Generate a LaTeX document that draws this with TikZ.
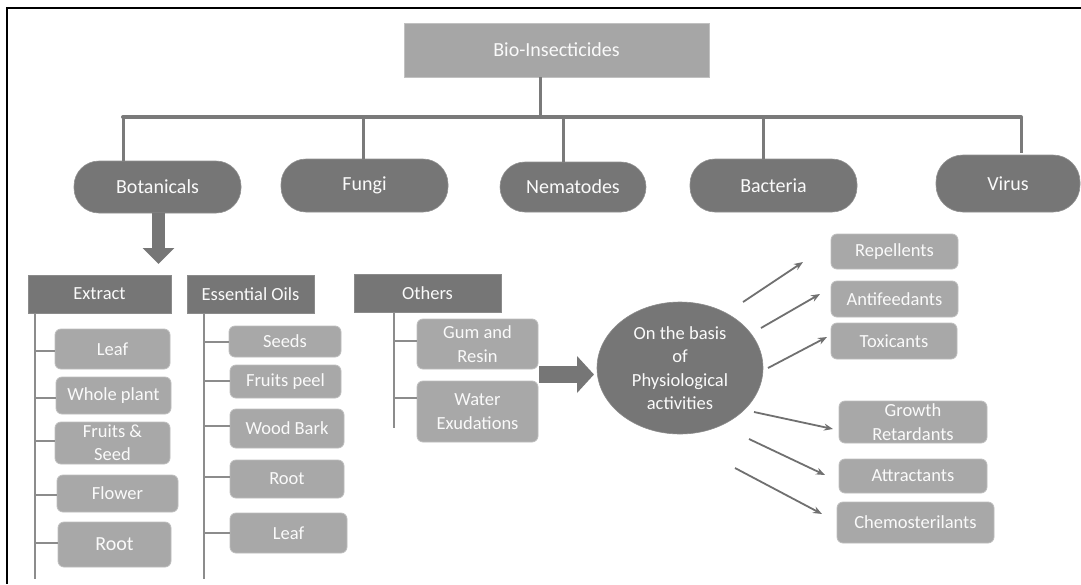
\documentclass[tikz,border=0pt]{standalone}
\usepackage{fontspec}
\setmainfont{Carlito}
\usetikzlibrary{shapes.geometric,arrows.meta}
\definecolor{dk}{RGB}{118,118,118}
\definecolor{lt}{RGB}{168,168,168}
\definecolor{topc}{RGB}{166,166,166}
\definecolor{barc}{RGB}{122,122,122}
\definecolor{treec}{RGB}{140,140,140}
\definecolor{txt}{RGB}{250,250,250}
\tikzset{
  basefont/.style={font=\fontsize{18.5}{23.5}\selectfont},
  bigfont/.style={font=\fontsize{20}{24}\selectfont},
  topbox/.style={rectangle, fill=topc, draw=topc!70!white, line width=0.8pt, text=txt, inner sep=0pt, bigfont},
  pill/.style={rectangle, rounded corners=25pt, fill=dk, draw=dk!80!white, line width=0.6pt, text=txt, inner sep=0pt, bigfont},
  hdr/.style={rectangle, fill=dk, draw=dk!85!white, line width=0.6pt, text=txt, inner sep=0pt, basefont},
  lbox/.style={rectangle, rounded corners=6pt, fill=lt, draw=lt!75!white, line width=0.8pt, text=txt, inner sep=0pt, align=center, basefont},
  oval/.style={ellipse, fill=dk, draw=dk!85!white, line width=0.6pt, text=txt, inner sep=0pt, align=center, basefont},
  bar/.style={draw=barc, line width=4pt},
  stem/.style={draw=barc, line width=3pt},
  tree/.style={draw=treec, line width=2pt},
  thinarr/.style={draw=dk!95!black, line width=1.8pt, -{Stealth[length=9pt,width=7pt]}},
}
\begin{document}
\begin{tikzpicture}[x=1pt,y=-1pt]
\useasboundingbox (0,0) rectangle (1081,584);
\fill[white] (0,0) rectangle (1081,584);
% frame (top and left edges)
\coordinate (fTL) at (7,8);
\coordinate (fTR) at (1081,8);
\coordinate (fBL) at (7,584);
\draw[black, line width=1.5pt] (fTR) -- (fTL) -- (fBL);

% top
\node[topbox, minimum width=305pt, minimum height=54pt] (top) at (556.5,50) {Bio-Insecticides};

% category pills
\node[pill, minimum width=167pt, minimum height=52pt] (bot) at (157.5,187) {Botanicals};
\node[pill, minimum width=167pt, minimum height=53pt] (fungi) at (364.5,185.5) {Fungi};
\node[pill, minimum width=146pt, minimum height=50pt] (nem) at (573,187) {Nematodes};
\node[pill, minimum width=167pt, minimum height=53pt] (bac) at (773.5,185.5) {Bacteria};
\node[pill, minimum width=144pt, minimum height=57pt, rounded corners=27pt] (vir) at (1008,183.5) {Virus};

% bar connectors
\coordinate (jT) at (540,117);
\coordinate (jL) at (123,117);
\coordinate (jR) at (1021,117);
\coordinate (jF) at (363,117);
\coordinate (jN) at (563,117);
\coordinate (jB) at (763,117);
\coordinate (jV) at (1021,153);
\draw[stem] (top.south -| jT) -- (jT);
\draw[bar, line cap=round] (jL) -- (jR);
\draw[stem] (jL) -- (jL |- bot.north);
\draw[stem] (jF) -- (jF |- fungi.north);
\draw[stem] (jN) -- (jN |- nem.north);
\draw[stem] (jB) -- (jB |- bac.north);
\draw[stem] (jR) -- (jV);

% down arrow
\coordinate (dTip) at (158.5,264);
\draw[draw=dk, line width=13pt, -{Triangle[width=31pt,length=16pt]}] (bot.south -| dTip) -- (dTip);

% headers
\node[hdr, minimum width=143pt, minimum height=38pt] (ext) at (99.5,294) {Extract};
\node[hdr, minimum width=127pt, minimum height=38pt] (eso) at (250.5,294) {Essential Oils};
\node[hdr, minimum width=147pt, minimum height=38pt] (oth) at (427.5,293) {Others};

% Extract items
\node[lbox, minimum width=115pt, minimum height=40pt] (eleaf) at (112.5,349) {Leaf};
\node[lbox, minimum width=115pt, minimum height=37pt] (ewhole) at (113.5,395.5) {Whole plant};
\node[lbox, minimum width=115pt, minimum height=42pt] (efruit) at (112.5,443) {Fruits \&\\[-0.5pt]Seed};
\node[lbox, minimum width=121pt, minimum height=37pt] (eflower) at (117.5,493.5) {Flower};
\node[lbox, minimum width=113pt, minimum height=45pt, bigfont] (eroot) at (114.5,544.5) {Root};

% Essential oil items
\node[lbox, minimum width=112pt, minimum height=31pt] (oseeds) at (285,341.5) {Seeds};
\node[lbox, minimum width=111pt, minimum height=33pt] (opeel) at (285.5,381.5) {Fruits peel};
\node[lbox, minimum width=114pt, minimum height=39pt] (obark) at (287,428.5) {Wood Bark};
\node[lbox, minimum width=114pt, minimum height=38pt] (oroot) at (287,479) {Root};
\node[lbox, minimum width=117pt, minimum height=40pt] (oleaf) at (288.5,533) {Leaf};

% Others items
\node[lbox, minimum width=121pt, minimum height=50pt] (gum) at (477.5,344) {Gum and\\Resin};
\node[lbox, minimum width=121pt, minimum height=61pt] (water) at (477.5,411.5) {Water\\Exudations};

% trees
\coordinate (xE) at (34.5,579);
\coordinate (xO) at (204,579);
\coordinate (xH) at (394,428);
\draw[tree] (xE |- ext.south) -- (xE);
\foreach \n/\y in {eleaf/351,ewhole/398,efruit/441,eflower/495,eroot/543}
  \draw[tree] (34.5,\y) -- (\n.west |- 0,\y);
\draw[tree] (xO |- eso.south) -- (xO);
\foreach \n/\y in {oseeds/342,opeel/381,obark/426,oroot/477,oleaf/533}
  \draw[tree] (204,\y) -- (\n.west |- 0,\y);
\draw[tree] (xH |- oth.south) -- (xH);
\foreach \n/\y in {gum/341,water/398}
  \draw[tree] (394,\y) -- (\n.west |- 0,\y);

% ellipse
\node[oval, minimum width=166pt, minimum height=132pt] (phys) at (680,368) {On the basis\\of\\Physiological\\activities};

% block arrow right
\coordinate (rS) at (539,374.5);
\coordinate (rT) at (594,374.5);
\draw[draw=dk, line width=17pt, -{Triangle[width=36pt,length=17pt]}] (rS) -- (rT);

% right boxes
\node[lbox, minimum width=127pt, minimum height=35pt] (rep) at (894.5,251.5) {Repellents};
\node[lbox, minimum width=127pt, minimum height=36pt] (anti) at (894.5,299) {Antifeedants};
\node[lbox, minimum width=126pt, minimum height=36pt] (tox) at (894,341) {Toxicants};
\node[lbox, minimum width=148pt, minimum height=42pt] (grow) at (913,422) {Growth\\Retardants};
\node[lbox, minimum width=148pt, minimum height=34pt] (attr) at (913,476) {Attractants};
\node[lbox, minimum width=157pt, minimum height=41pt] (chemo) at (915.5,522.5) {Chemosterilants};

% thin arrows
\coordinate (a1s) at (743,302); \coordinate (a1e) at (803,262);
\coordinate (a2s) at (761,328); \coordinate (a2e) at (820,294);
\coordinate (a3s) at (768,368); \coordinate (a3e) at (827,337);
\coordinate (a4s) at (754,412); \coordinate (a4e) at (833,429);
\coordinate (a5s) at (749,439); \coordinate (a5e) at (825,475);
\coordinate (a6s) at (735,468); \coordinate (a6e) at (822,514);
\foreach \i in {1,...,6} \draw[thinarr] (a\i s) -- (a\i e);
\end{tikzpicture}
\end{document}
